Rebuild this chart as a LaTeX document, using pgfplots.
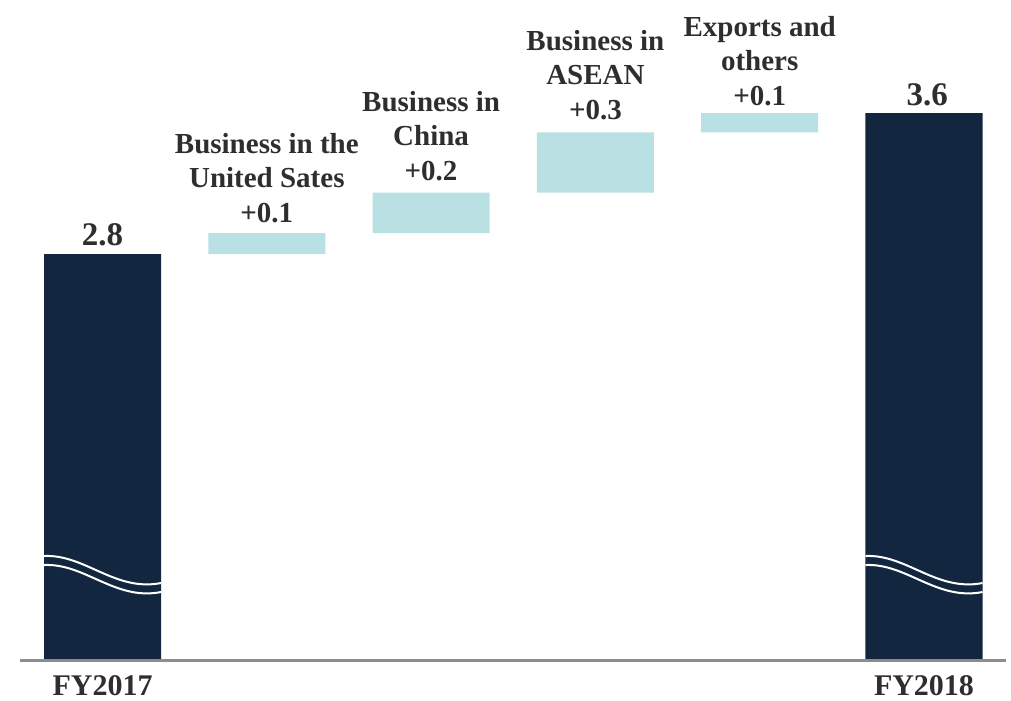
\documentclass[border=0pt]{standalone}
\usepackage{pgfplots}
\pgfplotsset{compat=1.18}
\usepackage{fontspec}
\setmainfont{Liberation Serif}
\definecolor{navy}{HTML}{13263F}
\definecolor{lteal}{HTML}{B9E0E3}
\definecolor{txt}{HTML}{2E2E2E}
\definecolor{baseln}{HTML}{8C8C8C}
\tikzset{lbl/.style={font=\fontsize{29}{34.5}\selectfont\bfseries, text=txt, inner sep=0pt, anchor=base}}
\begin{document}
\begin{tikzpicture}
\begin{axis}[
 width=1011pt, height=660pt, scale only axis,
 xmin=-0.6239, xmax=5.5296, ymin=0.4965, ymax=4.2412,
 hide axis, ybar stacked, bar width=117pt,
 clip mode=individual,
]
% invisible base of the waterfall
\addplot[draw=none, fill=none] coordinates {(0,0) (1,2.8) (2,2.919) (3,3.149) (4,3.4905) (5,0)};
% totals
\addplot[draw=none, fill=navy] coordinates {(0,2.8) (1,0) (2,0) (3,0) (4,0) (5,3.6)};
% increments
\addplot[draw=none, fill=lteal] coordinates {(0,0) (1,0.119) (2,0.230) (3,0.3415) (4,0.1095) (5,0)};

% reference points for the broken-axis waves
\coordinate (a1) at (axis cs:-0.356,1.0866);
\coordinate (a2) at (axis cs:-0.1065,1.0979);
\coordinate (a3) at (axis cs:0.0761,0.8823);
\coordinate (a4) at (axis cs:0.356,0.9334);
\coordinate (b1) at (axis cs:-0.356,1.0355);
\coordinate (b2) at (axis cs:-0.1065,1.0469);
\coordinate (b3) at (axis cs:0.0761,0.8313);
\coordinate (b4) at (axis cs:0.356,0.8823);
\coordinate (c1) at (axis cs:4.644,1.0866);
\coordinate (c2) at (axis cs:4.8935,1.0979);
\coordinate (c3) at (axis cs:5.0761,0.8823);
\coordinate (c4) at (axis cs:5.356,0.9334);
\coordinate (d1) at (axis cs:4.644,1.0355);
\coordinate (d2) at (axis cs:4.8935,1.0469);
\coordinate (d3) at (axis cs:5.0761,0.8313);
\coordinate (d4) at (axis cs:5.356,0.8823);
\coordinate (L1) at (axis cs:-0.502,0.4965);
\coordinate (L2) at (axis cs:5.499,0.4965);

% value labels
\node[lbl, font=\fontsize{33}{36}\selectfont\bfseries] at (axis cs:0,2.851) {2.8};
\node[lbl, font=\fontsize{33}{36}\selectfont\bfseries] at (axis cs:5.02,3.640) {3.6};
\node[lbl] at (axis cs:1,2.9816) {\begin{tabular}[b]{@{}c@{}}Business in the\\United Sates\\+0.1\end{tabular}};
\node[lbl] at (axis cs:2,3.2199) {\begin{tabular}[b]{@{}c@{}}Business in\\China\\+0.2\end{tabular}};
\node[lbl] at (axis cs:3,3.5643) {\begin{tabular}[b]{@{}c@{}}Business in\\ASEAN\\+0.3\end{tabular}};
\node[lbl] at (axis cs:4,3.6454) {\begin{tabular}[b]{@{}c@{}}Exports and\\others\\+0.1\end{tabular}};
% category labels
\node[lbl, font=\fontsize{30}{36}\selectfont\bfseries] at (axis cs:0,0.2979) {FY2017};
\node[lbl, font=\fontsize{30}{36}\selectfont\bfseries] at (axis cs:5,0.2979) {FY2018};
\end{axis}
\draw[white, line width=2pt] (a1) .. controls (a2) and (a3) .. (a4);
\draw[white, line width=2pt] (b1) .. controls (b2) and (b3) .. (b4);
\draw[white, line width=2pt] (c1) .. controls (c2) and (c3) .. (c4);
\draw[white, line width=2pt] (d1) .. controls (d2) and (d3) .. (d4);
\draw[baseln, line width=3pt] (L1) -- (L2);
\pgfresetboundingbox
\path[use as bounding box] ([yshift=-40pt]current axis.south west) rectangle (current axis.north east);
\end{tikzpicture}
\end{document}
